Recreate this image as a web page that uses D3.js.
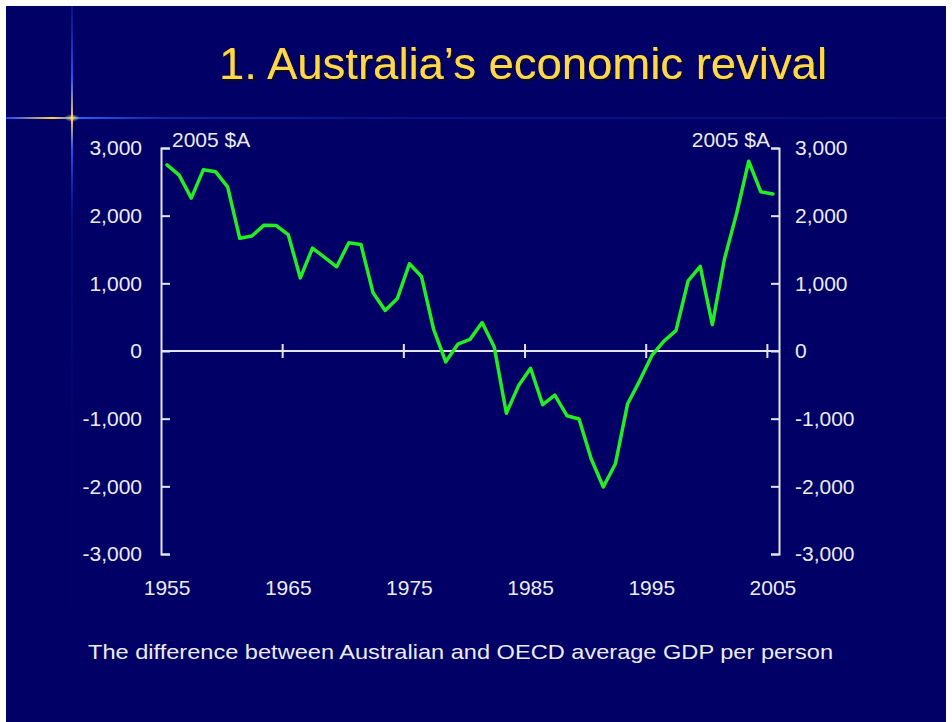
<!DOCTYPE html>
<html><head><meta charset="utf-8">
<script src="https://cdn.jsdelivr.net/npm/d3@7"></script>
<style>body{margin:0;background:#fff;} svg{display:block;}</style>
</head><body>
<script>
// ---- data ----
const years = [1955,1956,1957,1958,1959,1960,1961,1962,1963,1964,1965,1966,1967,1968,1969,1970,
  1971,1972,1973,1974,1975,1976,1977,1978,1979,1980,1981,1982,1983,1984,1985,1986,1987,1988,1989,
  1990,1991,1992,1993,1994,1995,1996,1997,1998,1999,2000,2001,2002,2003,2004,2005];
const gdpGap = [2750,2600,2260,2680,2650,2425,1665,1700,1860,1855,1720,1080,1520,1385,1245,1600,
  1575,860,600,775,1290,1100,320,-160,100,172,420,60,-920,-515,-255,-794,-652,-956,-1005,
  -1593,-2010,-1667,-784,-441,-70,147,300,1035,1250,390,1360,2030,2804,2353,2320];
const yTicks = [-3000,-2000,-1000,0,1000,2000,3000];
const xLabelYears = [1955,1965,1975,1985,1995,2005];
const xTickYears = [1965,1975,1985,1995,2005];
const titleText = "1. Australia\u2019s economic revival";
const unitText = "2005 $A";
const captionText = "The difference between Australian and OECD average GDP per person";

// ---- drawing ----
const W = 952, H = 722;
const svg = d3.select("body").append("svg").attr("width", W).attr("height", H);
const defs = svg.append("defs");

svg.append("rect").attr("x", 6).attr("y", 6).attr("width", 940).attr("height", 716).attr("fill", "#000066");

// decorative glow lines
const hg = defs.append("linearGradient").attr("id", "hg").attr("x1", 0).attr("x2", 1).attr("y1", 0).attr("y2", 0);
[[0,"#1f4fff",0.9],[0.05,"#ffd24a",1],[0.075,"#2a62ff",1],[0.17,"#1336c8",0.7],[0.4,"#0c1f9e",0.6],[1,"#0a1a90",0.5]]
  .forEach(([o,c,a]) => hg.append("stop").attr("offset", o).attr("stop-color", c).attr("stop-opacity", a));
svg.append("rect").attr("x", 6).attr("y", 117).attr("width", 940).attr("height", 2).attr("fill", "url(#hg)");

const vg = defs.append("linearGradient").attr("id", "vg").attr("x1", 0).attr("x2", 0).attr("y1", 0).attr("y2", 1);
[[0,"#0c1fa0",0.6],[0.1,"#2a5cff",0.9],[0.157,"#ffd24a",1],[0.2,"#2a5cff",0.9],[0.3,"#0c1fa0",0.4],[0.6,"#08127e",0.15],[1,"#08127e",0.1]]
  .forEach(([o,c,a]) => vg.append("stop").attr("offset", o).attr("stop-color", c).attr("stop-opacity", a));
svg.append("rect").attr("x", 71).attr("y", 6).attr("width", 2).attr("height", 716).attr("fill", "url(#vg)");

const rg = defs.append("radialGradient").attr("id", "rg");
rg.append("stop").attr("offset", 0).attr("stop-color", "#ffe27a").attr("stop-opacity", 0.9);
rg.append("stop").attr("offset", 1).attr("stop-color", "#ffe27a").attr("stop-opacity", 0);
svg.append("ellipse").attr("cx", 72).attr("cy", 118).attr("rx", 8).attr("ry", 4).attr("fill", "url(#rg)");

// title with shadow (filter)
const sh = defs.append("filter").attr("id", "sh").attr("x", "-5%").attr("y", "-20%").attr("width", "110%").attr("height", "140%");
sh.append("feDropShadow").attr("dx", 2).attr("dy", 2).attr("stdDeviation", 0.4)
  .attr("flood-color", "#0a0a1a").attr("flood-opacity", 1);
const font = "Arial, 'Liberation Sans', sans-serif";
svg.append("text").attr("x", 219).attr("y", 79).text(titleText)
  .attr("font-family", font).attr("font-size", 45).attr("fill", "#ffd84a")
  .attr("textLength", 608).attr("lengthAdjust", "spacingAndGlyphs")
  .attr("filter", "url(#sh)");

// scales
const x = d3.scaleBand().domain(years).range([161, 779]).padding(0);
const xl = d3.scaleLinear().domain([1955, 2006]).range([161, 779]);
const y = d3.scaleLinear().domain([-3000, 3000]).range([554, 148]);

const axisColor = "#e4e4ee";
const labelColor = "#ececf4";
const fmt = v => d3.format(",")(Math.abs(v)).replace(/^/, v < 0 ? "-" : "");

function styleAxis(g) {
  g.selectAll("path,line").attr("stroke", axisColor).attr("stroke-width", 2);
  g.selectAll("text").attr("fill", labelColor).attr("font-family", font).attr("font-size", 21);
}

// left axis
svg.append("g").attr("transform", "translate(161,0)")
  .call(d3.axisLeft(y).tickValues(yTicks).tickFormat(fmt).tickSizeInner(-9).tickSizeOuter(-9).tickPadding(19))
  .call(styleAxis);
// right axis
svg.append("g").attr("transform", "translate(779,0)")
  .call(d3.axisRight(y).tickValues(yTicks).tickFormat(fmt).tickSizeInner(-8).tickSizeOuter(-8).tickPadding(16))
  .call(styleAxis);

// zero line
svg.append("line").attr("x1", 161).attr("x2", 779).attr("y1", y(0)).attr("y2", y(0))
  .attr("stroke", axisColor).attr("stroke-width", 2);

// x ticks crossing the zero line
const xt = svg.append("g").attr("transform", `translate(0,${y(0) - 7})`)
  .call(d3.axisBottom(xl).tickValues(xTickYears).tickSize(14).tickFormat(""));
xt.select(".domain").remove();
styleAxis(xt);

// x labels
const xlab = svg.append("g").attr("transform", "translate(0,574)")
  .call(d3.axisBottom(x).tickValues(xLabelYears).tickSize(0).tickPadding(6));
xlab.select(".domain").remove();
styleAxis(xlab);

// unit labels
svg.append("text").attr("x", 172).attr("y", 147).text(unitText)
  .attr("font-family", font).attr("font-size", 21).attr("fill", labelColor);
svg.append("text").attr("x", 770).attr("y", 147).attr("text-anchor", "end").text(unitText)
  .attr("font-family", font).attr("font-size", 21).attr("fill", labelColor);

// the line
const line = d3.line().x((d, i) => x(years[i]) + x.bandwidth() / 2).y(d => y(d));
svg.append("path").datum(gdpGap).attr("d", line)
  .attr("fill", "none").attr("stroke", "#22ee22").attr("stroke-width", 3.5)
  .attr("stroke-linejoin", "round").attr("stroke-linecap", "round");

// caption
svg.append("text").attr("x", 88).attr("y", 659).text(captionText)
  .attr("font-family", font).attr("font-size", 21).attr("fill", labelColor)
  .attr("textLength", 745).attr("lengthAdjust", "spacingAndGlyphs");
</script>
</body></html>
